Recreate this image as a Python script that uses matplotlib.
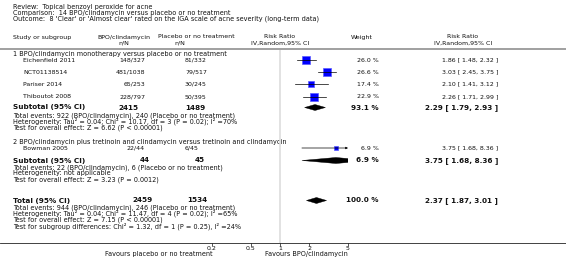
import matplotlib
matplotlib.use("Agg")
import matplotlib.pyplot as plt
from matplotlib.patches import Polygon
import numpy as np

# study level data
studies = ["Eichenfield 2011", "NCT01138514", "Pariser 2014", "Thiboutot 2008", "Bowman 2005"]
treat_nN = ["148/327", "481/1038", "65/253", "228/797", "22/44"]
ctrl_nN = ["81/332", "79/517", "30/245", "50/395", "6/45"]
weights = [26.0, 26.6, 17.4, 22.9, 6.9]
rr = [1.86, 3.03, 2.10, 2.26, 3.75]
rr_lo = [1.48, 2.45, 1.41, 1.71, 1.68]
rr_hi = [2.32, 3.75, 3.12, 2.99, 8.36]

# subtotals and overall
pooled_labels = ["Subtotal (95% CI)", "Subtotal (95% CI)", "Total (95% CI)"]
pooled_treat = ["2415", "44", "2459"]
pooled_ctrl = ["1489", "45", "1534"]
pooled_weight = [93.1, 6.9, 100.0]
pooled_rr = [2.29, 3.75, 2.37]
pooled_lo = [1.79, 1.68, 1.87]
pooled_hi = [2.93, 8.36, 3.01]

group_titles = ["1 BPO/clindamycin monotherapy versus placebo or no treatment",
                "2 BPO/clindamycin plus tretinoin and clindamycin versus tretinoin and clindamycin"]
group_notes = [
    ["Total events: 922 (BPO/clindamycin), 240 (Placebo or no treatment)",
     "Heterogeneity: Tau\u00b2 = 0.04; Chi\u00b2 = 10.17, df = 3 (P = 0.02); I\u00b2 =70%",
     "Test for overall effect: Z = 6.62 (P < 0.00001)"],
    ["Total events: 22 (BPO/clindamycin), 6 (Placebo or no treatment)",
     "Heterogeneity: not applicable",
     "Test for overall effect: Z = 3.23 (P = 0.0012)"],
    ["Total events: 944 (BPO/clindamycin), 246 (Placebo or no treatment)",
     "Heterogeneity: Tau\u00b2 = 0.04; Chi\u00b2 = 11.47, df = 4 (P = 0.02); I\u00b2 =65%",
     "Test for overall effect: Z = 7.15 (P < 0.00001)",
     "Test for subgroup differences: Chi\u00b2 = 1.32, df = 1 (P = 0.25), I\u00b2 =24%"],
]
header_lines = ["Review:  Topical benzoyl peroxide for acne",
                "Comparison:  14 BPO/clindamycin versus placebo or no treatment",
                "Outcome:  8 'Clear' or 'Almost clear' rated on the IGA scale of acne severity (long-term data)"]
ticks = [0.2, 0.5, 1, 2, 5]
tick_labels = ["0.2", "0.5", "1", "2", "5"]

# layout (pixel rows)
study_y = [60, 72, 84, 97, 148]
pooled_y = [107.5, 160.5, 200.5]
group_title_y = [54, 142]
notes_y = [[115.5, 121.5, 127.5], [167.5, 173.5, 179.5], [207.5, 213.5, 219.5, 226]]
pooled_treat_x = [118, 140, 132]
pooled_ctrl_x = [185, 195, 187]

W, H = 566, 260
fs = 4.7
fsn = 4.5
fsb = 5.2
tc = "#111111"

fig = plt.figure(figsize=(W / 100, H / 100), dpi=100)
bg = fig.add_axes([0, 0, 1, 1])
bg.set_xlim(0, W)
bg.set_ylim(H, 0)
bg.axis("off")

def txt(x, y, s, ha="left", bold=False, size=None):
    if size is None:
        size = fsb if bold else fs
    bg.text(x, y, s, ha=ha, va="center", fontsize=size,
            fontweight="bold" if bold else "normal", color=tc)

for i, s in enumerate(header_lines):
    txt(13, 7 + 6 * i, s)

txt(13, 37, "Study or subgroup", size=fsn)
txt(124, 37, "BPO/clindamycin", ha="center", size=fsn)
txt(124, 43, "n/N", ha="center", size=fsn)
txt(196, 37, "Placebo or no treatment", ha="center", size=fsn)
txt(180, 43, "n/N", ha="center", size=fsn)
txt(280, 37, "Risk Ratio", ha="center", size=fsn)
txt(280, 43, "IV,Random,95% CI", ha="center", size=fsn)
txt(362, 37, "Weight", ha="center", size=fsn)
txt(463, 37, "Risk Ratio", ha="center", size=fsn)
txt(463, 43, "IV,Random,95% CI", ha="center", size=fsn)
bg.plot([0, W], [48.5, 48.5], color="#999999", lw=1.3)
bg.plot([0, W], [243, 243], color="#222222", lw=0.6)

for i, s in enumerate(group_titles):
    txt(13, group_title_y[i], s)

for i in range(len(studies)):
    y = study_y[i]
    txt(23, y, studies[i], size=fsn)
    txt(145, y, treat_nN[i], ha="right", size=fsn)
    txt(185, y, ctrl_nN[i], size=fsn)
    txt(379, y, "%.1f %%" % weights[i], ha="right", size=fsn)
    txt(498, y, "%.2f [ %.2f, %.2f ]" % (rr[i], rr_lo[i], rr_hi[i]), ha="right", size=fsn)

for i in range(len(pooled_labels)):
    y = pooled_y[i]
    txt(13, y, pooled_labels[i], bold=True)
    txt(pooled_treat_x[i], y, pooled_treat[i], bold=True)
    txt(pooled_ctrl_x[i], y, pooled_ctrl[i], bold=True)
    txt(379, y, "%.1f %%" % pooled_weight[i], ha="right", bold=True)
    txt(498, y, "%.2f [ %.2f, %.2f ]" % (pooled_rr[i], pooled_lo[i], pooled_hi[i]),
        ha="right", bold=True)
    for line, ly in zip(group_notes[i], notes_y[i]):
        txt(13, ly, line)

# forest plot axes
x0, x1, top, bot = 212, 348, 50, 243
ax = fig.add_axes([x0 / W, (H - bot) / H, (x1 - x0) / W, (bot - top) / H])
ax.set_xscale("log")
ax.set_xlim(0.2, 5)
ax.set_ylim(bot, top)
ax.patch.set_alpha(0)
for sp in ax.spines.values():
    sp.set_visible(False)
ax.set_yticks([])
ax.set_xticks(ticks)
ax.set_xticklabels(tick_labels)
ax.minorticks_off()
ax.tick_params(axis="x", length=2, width=0.5, pad=0.5, labelsize=fsn, colors=tc)
ax.axvline(1, color="#dddddd", lw=1.2, zorder=0)

xmax = ax.get_xlim()[1]
for i in range(len(studies)):
    y = study_y[i]
    ax.plot(rr[i], y, marker="s", markersize=1.15 * np.sqrt(weights[i]),
            mfc="#0000ff", mec="#5a5aff", mew=0.5, zorder=2)
    if rr_hi[i] > xmax:
        ax.annotate("", xy=(xmax, y), xytext=(rr_lo[i], y),
                    arrowprops=dict(arrowstyle="-|>", lw=0.5, color="black",
                                    mutation_scale=3, shrinkA=0, shrinkB=0), zorder=3)
    else:
        ax.plot([rr_lo[i], rr_hi[i]], [y, y], color="black", lw=0.5, zorder=3)

for i in range(len(pooled_labels)):
    y = pooled_y[i]
    h = 3
    d = Polygon([(pooled_lo[i], y), (pooled_rr[i], y - h), (pooled_hi[i], y),
                 (pooled_rr[i], y + h)], closed=True, fc="black", ec="black", lw=0.3)
    ax.add_patch(d)

bg.text(213, 254, "Favours placebo or no treatment", ha="right", va="center",
        fontsize=fs, color=tc)
bg.text(265, 254, "Favours BPO/clindamycin", ha="left", va="center",
        fontsize=fs, color=tc)

fig.savefig("out.png", dpi=100)
